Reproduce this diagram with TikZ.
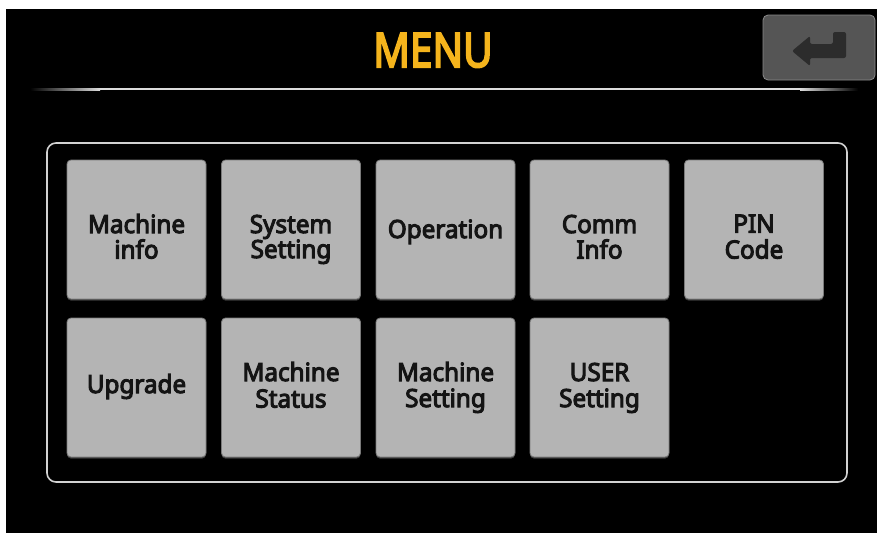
\documentclass[tikz,border=0pt]{standalone}
\usepackage{fontspec}
\setmainfont{Noto Sans}
\newfontfamily\lblfont{Noto Sans}[FakeBold=4.2]
\usetikzlibrary{shadows}
\definecolor{menuor}{HTML}{F5B41C}
\definecolor{btngray}{HTML}{B4B4B4}
\definecolor{btnedge}{HTML}{7A7A7A}
\definecolor{btnshadow}{HTML}{3A3A3A}
\definecolor{lblc}{HTML}{141414}
\definecolor{retgray}{HTML}{555555}
\definecolor{retedge}{HTML}{8A8A8A}
\definecolor{arrowc}{HTML}{2C2C2C}
\definecolor{framec}{HTML}{D2D2D2}
\definecolor{linec}{HTML}{DCDCDC}
\tikzset{
  btn/.style={minimum width=139pt, minimum height=139pt, inner sep=0pt,
    rounded corners=4pt, fill=btngray, draw=btnedge, line width=0.8pt,
    drop shadow={shadow xshift=0pt, shadow yshift=-1.6pt, fill=btnshadow, opacity=1}},
  lbl/.style={anchor=base, inner sep=0pt, text=lblc, xscale=0.97,
    font=\lblfont\fontsize{25}{25}\selectfont},
  retbtn/.style={minimum width=112pt, minimum height=65pt, inner sep=0pt,
    rounded corners=5pt, fill=retgray, draw=retedge, line width=0.8pt},
}
\begin{document}
\begin{tikzpicture}[x=1pt,y=-1pt]
\useasboundingbox (0,0) rectangle (877,533);
\fill[white] (0,0) rectangle (877,533);
\fill[black] (6,9) rectangle (877,533);
% title
\node[anchor=base, inner sep=0pt, text=menuor, xscale=0.85,
  font=\lblfont\fontsize{47.5}{47.5}\selectfont] (title) at (433,67) {MENU};
% separator line with faded ends
\shade[left color=black, right color=linec] (30,88) rectangle (100,90.4);
\fill[linec] (100,88) rectangle (800,90.4);
\shade[left color=linec, right color=black] (800,88) rectangle (858,90.4);
% return button
\node[retbtn] (ret) at (819,47.5) {};
\fill[arrowc, rounded corners=2pt] (792,51) -- (810,36) -- (810,44) -- (833,44)
  -- (833,32) -- (846,32) -- (846,58) -- (810,58) -- (810,66) -- cycle;
% frame
\draw[framec, line width=1.6pt, rounded corners=9pt] (47,143) rectangle (847,482);
% buttons row 1
\node[btn] (b11) at (136.5,229.5) {};
\node[btn] (b12) at (291,229.5) {};
\node[btn] (b13) at (445.5,229.5) {};
\node[btn] (b14) at (599.5,229.5) {};
\node[btn] (b15) at (754,229.5) {};
% buttons row 2
\node[btn] (b21) at (136.5,387.5) {};
\node[btn] (b22) at (291,387.5) {};
\node[btn] (b23) at (445.5,387.5) {};
\node[btn] (b24) at (599.5,387.5) {};
% labels row 1
\node[lbl] (t11a) at (136.5,233) {Machine};
\node[lbl] (t11b) at (136.5,258.5) {info};
\node[lbl] (t12a) at (291,233) {System};
\node[lbl] (t12b) at (291,258) {Setting};
\node[lbl] (t13) at (445.5,238) {Operation};
\node[lbl] (t14a) at (599.5,233) {Comm};
\node[lbl] (t14b) at (599.5,258.5) {Info};
\node[lbl] (t15a) at (754,232.5) {PIN};
\node[lbl] (t15b) at (754,258.5) {Code};
% labels row 2
\node[lbl] (t21) at (136.5,393) {Upgrade};
\node[lbl] (t22a) at (291,381) {Machine};
\node[lbl] (t22b) at (291,407.5) {Status};
\node[lbl] (t23a) at (445.5,381) {Machine};
\node[lbl] (t23b) at (445.5,407) {Setting};
\node[lbl] (t24a) at (599.5,381) {USER};
\node[lbl] (t24b) at (599.5,407) {Setting};
\end{tikzpicture}
\end{document}
